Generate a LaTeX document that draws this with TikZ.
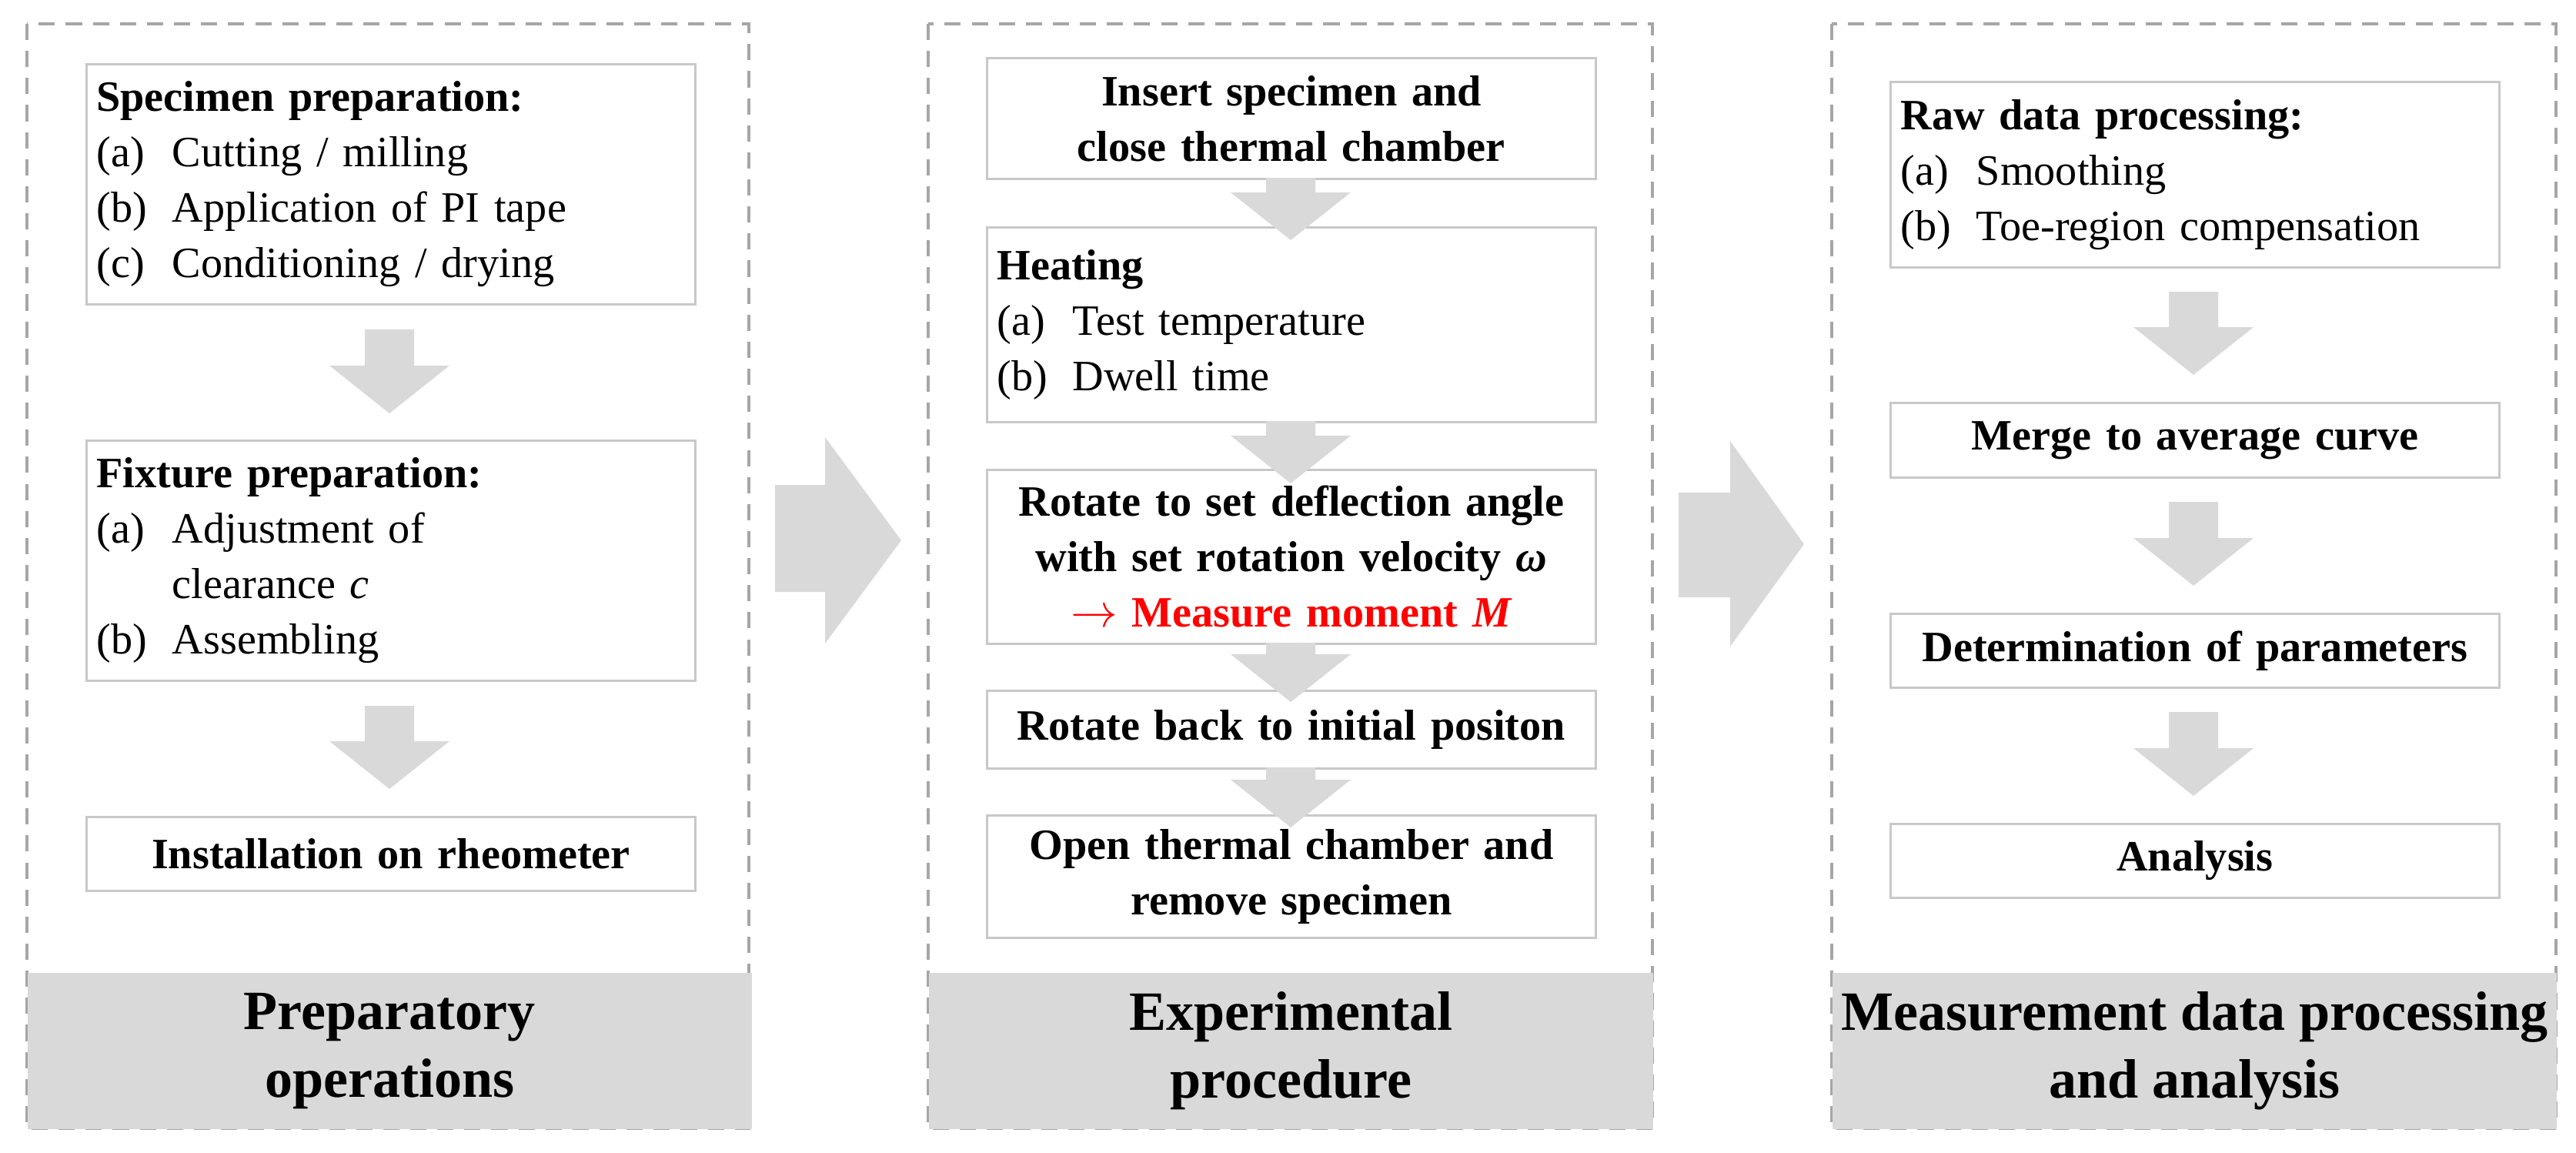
\documentclass[tikz,border=0pt]{standalone}
\usepackage{fontspec}
\setmainfont{Liberation Serif}
\usetikzlibrary{positioning}
\definecolor{blkgray}{HTML}{D9D9D9}
\definecolor{boxgray}{HTML}{C8C8C8}
\definecolor{dashgray}{HTML}{A6A6A6}
\hyphenpenalty=10000
\newcommand\itm[2]{\makebox[1.75em][l]{#1}#2}
% block arrow pointing down: x, y top, y bottom
\newcommand\blkdown[3]{%
  \fill[blkgray] (#1-0.32,#2) -- (#1+0.32,#2) -- (#1+0.32,#3+0.62) -- (#1+0.78,#3+0.62)
    -- (#1,#3) -- (#1-0.78,#3+0.62) -- (#1-0.32,#3+0.62) -- cycle;}
\tikzset{
  stepbox/.style={draw=boxgray, fill=white, line width=0.8pt, minimum width=7.91cm,
    text width=7.65cm, anchor=north west, inner xsep=0.13cm,
    font=\fontsize{16}{20.5}\selectfont},
  head/.style={stepbox, align=center, font=\fontsize{16}{20.5}\selectfont\bfseries},
  list/.style={stepbox, align=left},
  panel/.style={draw=dashgray, dash pattern=on 6pt off 4pt, line width=0.9pt},
  foot/.style={fill=blkgray, minimum width=9.41cm, minimum height=2.03cm, anchor=north west,
    align=center, font=\fontsize{20.5}{25}\selectfont\bfseries}
}
\begin{document}
\begin{tikzpicture}
\useasboundingbox (0,0) rectangle (33.47,-14.97);
% panels
\draw[panel] (0.35,-0.31) rectangle (9.73,-14.66);
\draw[panel] (12.06,-0.31) rectangle (21.47,-14.66);
\draw[panel] (23.80,-0.31) rectangle (33.21,-14.66);
\node[foot] (f1) at (0.35,-12.63) {Preparatory\\operations};
\node[foot] (f2) at (12.06,-12.63) {Experimental\\procedure};
\node[foot] (f3) at (23.80,-12.63) {Measurement data processing\\and analysis};
% panel 1
\node[list, minimum height=3.12cm] (spec) at (1.11,-0.82)
  {\textbf{Specimen preparation:}\\\itm{(a)}{Cutting / milling}\\\itm{(b)}{Application of PI tape}\\\itm{(c)}{Conditioning / drying}};
\node[list, minimum height=3.12cm] (fix) at (1.11,-5.71)
  {\textbf{Fixture preparation:}\\\itm{(a)}{Adjustment of}\\\hspace*{1.75em}clearance \textit{c}\\\itm{(b)}{Assembling}};
\node[head, minimum height=0.96cm] (inst) at (1.11,-10.60) {Installation on rheometer};
\blkdown{5.06}{-4.28}{-5.37}
\blkdown{5.06}{-9.17}{-10.25}
% panel 2
\node[head, minimum height=1.57cm] (ins) at (12.81,-0.74) {Insert specimen and\\close thermal chamber};
\node[list, minimum height=2.53cm] (heat) at (12.81,-2.94)
  {\textbf{Heating}\\\itm{(a)}{Test temperature}\\\itm{(b)}{Dwell time}};
\node[head, minimum height=2.26cm] (rot) at (12.81,-6.09)
  {Rotate to set deflection angle\\with set rotation velocity \textit{ω}\\\textcolor{red}{$\rightarrow$ Measure moment \textit{M}}};
\node[head, minimum height=1.01cm] (back) at (12.81,-8.96) {Rotate back to initial positon};
\node[head, minimum height=1.59cm] (open) at (12.81,-10.58) {Open thermal chamber and\\remove specimen};
\blkdown{16.77}{-2.31}{-3.12}
\blkdown{16.77}{-5.47}{-6.28}
\blkdown{16.77}{-8.35}{-9.12}
\blkdown{16.77}{-9.97}{-10.75}
% panel 3
\node[list, minimum height=2.41cm] (raw) at (24.55,-1.05)
  {\textbf{Raw data processing:}\\\itm{(a)}{Smoothing}\\\itm{(b)}{Toe-region compensation}};
\node[head, minimum height=0.97cm] (merge) at (24.55,-5.22) {Merge to average curve};
\node[head, minimum height=0.96cm] (det) at (24.55,-7.96) {Determination of parameters};
\node[head, minimum height=0.96cm] (ana) at (24.55,-10.69) {Analysis};
\blkdown{28.50}{-3.79}{-4.87}
\blkdown{28.50}{-6.52}{-7.61}
\blkdown{28.50}{-9.25}{-10.34}
% big arrows between panels
\fill[blkgray] (10.07,-6.30) -- (10.72,-6.30) -- (10.72,-5.68) -- (11.71,-7.02) -- (10.72,-8.36) -- (10.72,-7.69) -- (10.07,-7.69) -- cycle;
\fill[blkgray] (21.81,-6.40) -- (22.48,-6.40) -- (22.48,-5.73) -- (23.44,-7.07) -- (22.48,-8.40) -- (22.48,-7.76) -- (21.81,-7.76) -- cycle;
\end{tikzpicture}
\end{document}
